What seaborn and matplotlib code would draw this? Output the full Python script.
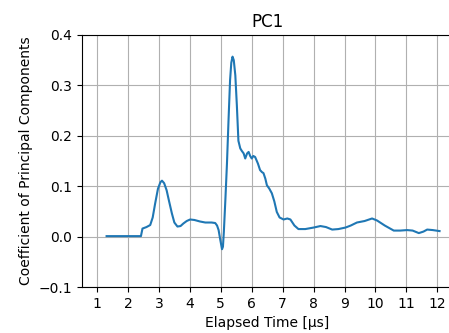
import matplotlib
matplotlib.use("Agg")
import matplotlib.pyplot as plt
import seaborn as sns
import pandas as pd

time_us = [1.31, 1.6, 2.0, 2.3, 2.42, 2.47, 2.6, 2.72, 2.8, 2.88, 2.97, 3.05, 3.1, 3.17, 3.25,
           3.33, 3.42, 3.5, 3.6, 3.7, 3.79, 3.9, 4.01, 4.15, 4.33, 4.5, 4.7, 4.82, 4.88, 4.93,
           4.98, 5.04, 5.07, 5.1, 5.15, 5.2, 5.25, 5.3, 5.34, 5.38, 5.42, 5.47, 5.52, 5.57,
           5.63, 5.68, 5.74, 5.79, 5.85, 5.9, 5.95, 6.0, 6.05, 6.11, 6.2, 6.27, 6.33, 6.38,
           6.44, 6.49, 6.57, 6.65, 6.73, 6.81, 6.9, 7.03, 7.15, 7.25, 7.38, 7.51, 7.73, 8.0,
           8.22, 8.4, 8.6, 8.8, 9.03, 9.2, 9.4, 9.65, 9.89, 10.05, 10.3, 10.59, 10.8, 11.02,
           11.2, 11.4, 11.55, 11.67, 11.85, 12.07]
pc1 = [0.001, 0.001, 0.001, 0.001, 0.001, 0.016, 0.019, 0.023, 0.038, 0.066, 0.095, 0.108,
       0.111, 0.106, 0.092, 0.07, 0.046, 0.028, 0.02, 0.021, 0.026, 0.031, 0.034, 0.033,
       0.03, 0.028, 0.028, 0.027, 0.022, 0.013, -0.005, -0.025, -0.02, 0.01, 0.075, 0.145,
       0.23, 0.31, 0.345, 0.357, 0.35, 0.32, 0.26, 0.19, 0.175, 0.17, 0.165, 0.155, 0.165,
       0.168, 0.16, 0.155, 0.16, 0.158, 0.145, 0.132, 0.128, 0.126, 0.115, 0.102, 0.095,
       0.086, 0.07, 0.049, 0.038, 0.034, 0.036, 0.034, 0.022, 0.015, 0.015, 0.018,
       0.021, 0.019, 0.014, 0.015, 0.018, 0.022, 0.028, 0.031, 0.036, 0.032, 0.022, 0.012,
       0.012, 0.013, 0.012, 0.007, 0.01, 0.014, 0.013, 0.011]

df = pd.DataFrame({"t": time_us, "v": pc1})

plt.rcParams["font.family"] = ["DejaVu Sans"]
fig = plt.figure(figsize=(4.49, 3.33), dpi=100)
ax = fig.add_axes([0.1826, 0.138, 0.826, 0.757])
sns.lineplot(data=df, x="t", y="v", ax=ax, color="#1f77b4", linewidth=1.5, sort=False)
ax.set_xlim(0.515, 12.5)
ax.set_ylim(-0.1, 0.4)
ax.set_xticks(range(1, 13))
ax.set_yticks([-0.1, 0.0, 0.1, 0.2, 0.3, 0.4])
ax.grid(True, color="#b0b0b0", linewidth=0.8)
ax.set_xlabel("Elapsed Time [µs]")
ax.set_ylabel("Coefficient of Principal Components")
ax.set_title("PC1")
fig.savefig("out.png", dpi=100)
